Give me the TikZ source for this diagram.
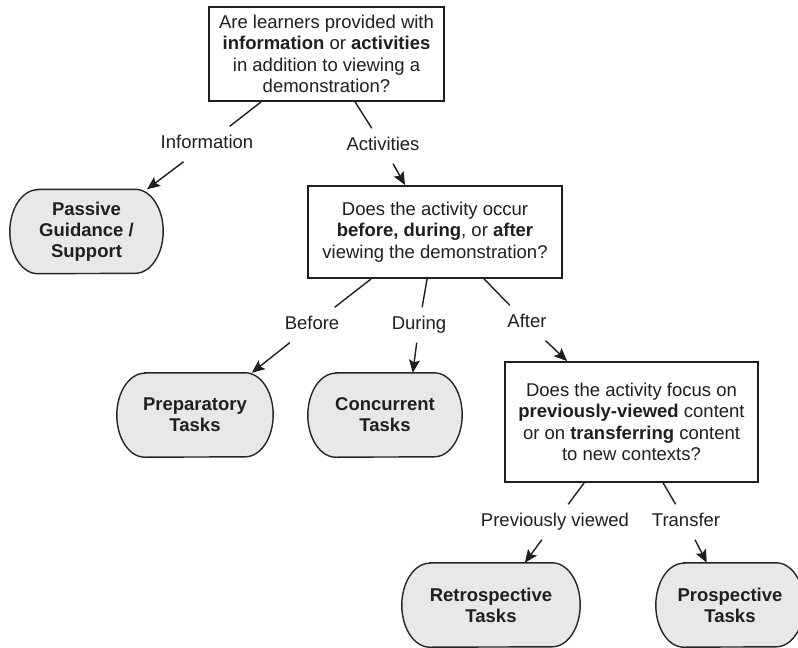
\documentclass[tikz,border=0pt]{standalone}
\usepackage{fontspec}
\setmainfont{Liberation Sans}
\usetikzlibrary{arrows.meta,backgrounds}
\newcommand\stadiumpath[1]{([xshift=28pt]#1.north west) -- ([xshift=-28pt]#1.north east) arc[start angle=90,end angle=-90,x radius=28pt,y radius=42pt] -- ([xshift=28pt]#1.south west) arc[start angle=270,end angle=90,x radius=28pt,y radius=42pt] -- cycle}
\begin{document}
\begin{tikzpicture}[x=1pt,y=-1pt,
  every node/.style={font=\fontsize{18.5}{21.5}\selectfont, text=black!88},
  qbox/.style={draw=black!88, line width=1.8pt, fill=white, align=center, inner sep=0pt},
  term/.style={inner sep=0pt, align=center, minimum height=84pt, font=\fontsize{18.5}{21}\selectfont\bfseries},
  termshape/.style={draw=black!85, line width=1.4pt, fill=black!9},
  lab/.style={inner xsep=3pt, inner ysep=9pt, text height=13pt, text depth=4pt},
  conn/.style={draw=black!88, line width=1.4pt},
  arr/.style={conn, -{Stealth[length=13pt,width=11pt,inset=2.5pt]}}
]
\useasboundingbox (0,0) rectangle (798,648);

% question boxes
\node[qbox, minimum width=235pt, minimum height=94pt] (q1) at (326.5,54)
  {Are learners provided with\\\textbf{information} or \textbf{activities}\\in addition to viewing a\\demonstration?};
\node[qbox, minimum width=254pt, minimum height=92pt] (q2) at (435,232)
  {Does the activity occur\\\textbf{before,} \textbf{during}, or \textbf{after}\\viewing the demonstration?};
\node[qbox, minimum width=253pt, minimum height=120pt] (q3) at (631.5,422)
  {Does the activity focus on\\\textbf{previously-viewed} content\\or on \textbf{transferring} content\\to new contexts?};

% terminal nodes
\node[term, minimum width=153pt] (pas) at (86.5,231.5) {Passive\\Guidance /\\Support};
\node[term, minimum width=156pt] (pre) at (195,415) {Preparatory\\Tasks};
\node[term, minimum width=154pt] (con) at (385,415) {Concurrent\\Tasks};
\node[term, minimum width=178pt] (ret) at (491,605) {Retrospective\\Tasks};
\node[term, minimum width=148pt] (pro) at (730,605) {Prospective\\Tasks};

\begin{scope}[on background layer]
  \fill[white] (0,0) rectangle (798,648);
  \foreach \n in {pas,pre,con,ret,pro} {
    \path[termshape] \stadiumpath{\n};
  }
\end{scope}

% labels
\node[lab] (li) at (207,144) {Information};
\node[lab] (la) at (383,146) {Activities};
\node[lab] (lb) at (312,325) {Before};
\node[lab] (ld) at (419,325) {During};
\node[lab] (lf) at (527,323) {After};
\node[lab] (lp) at (555,522) {Previously viewed};
\node[lab] (lt) at (686,522) {Transfer};

% connectors
\draw[conn] ([xshift=53pt]q1.south west) -- (li);
\draw[arr] (li) -- ([xshift=60.5pt]pas.north);
\draw[conn] ([xshift=147pt]q1.south west) -- (la);
\draw[arr] (la) -- ([xshift=98pt]q2.north west);
\draw[conn] ([xshift=64pt]q2.south west) -- (lb);
\draw[arr] (lb) -- ([xshift=135pt]pre.north west);
\draw[conn] ([xshift=120pt]q2.south west) -- (ld);
\draw[arr] (ld) -- ([xshift=105pt]con.north west);
\draw[conn] ([xshift=177pt]q2.south west) -- (lf);
\draw[arr] (lf) -- ([xshift=63pt]q3.north west);
\draw[conn] ([xshift=80pt]q3.south west) -- (lp);
\draw[arr] (lp) -- ([xshift=123pt]ret.north west);
\draw[conn] ([xshift=159pt]q3.south west) -- (lt);
\draw[arr] (lt) -- ([xshift=51pt]pro.north west);
\end{tikzpicture}
\end{document}
